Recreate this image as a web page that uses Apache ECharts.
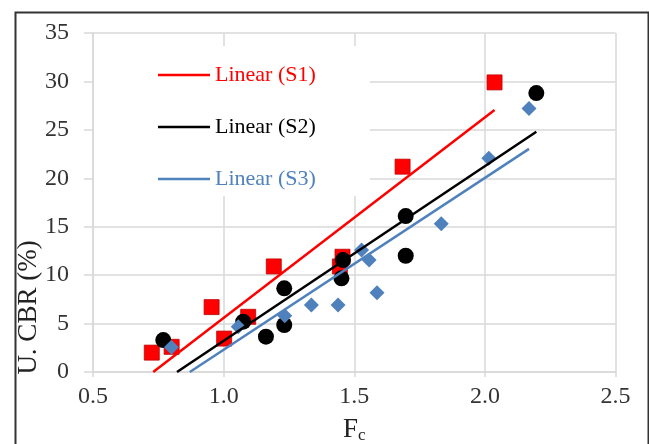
<!DOCTYPE html>
<html>
<head>
<meta charset="utf-8">
<style>
html,body{margin:0;padding:0;background:#fff;}
#chart{width:649px;height:444px;}
</style>
<script src="https://cdn.jsdelivr.net/npm/echarts@6/dist/echarts.min.js"></script>
</head>
<body>
<div id="chart"></div>
<script>
// Data
const s1X = [0.725, 0.801, 0.954, 1.002, 1.094, 1.192, 1.445, 1.455, 1.685, 2.037];
const s1Y = [2.0, 2.6, 6.7, 3.45, 5.7, 10.9, 10.9, 11.9, 21.2, 29.9];
const s2X = [0.769, 1.075, 1.162, 1.232, 1.232, 1.451, 1.457, 1.697, 1.697, 2.197];
const s2Y = [3.3, 5.2, 3.65, 8.64, 4.85, 9.67, 11.56, 16.1, 12.0, 28.8];
const s3X = [0.800, 1.056, 1.234, 1.336, 1.438, 1.528, 1.557, 1.587, 1.833, 2.015, 2.169];
const s3Y = [2.55, 4.68, 5.8, 6.92, 6.92, 12.6, 11.56, 8.19, 15.3, 22.06, 27.2];
const seriesNames = ['S1', 'S2', 'S3'];
const xTicks = [0.5, 1.0, 1.5, 2.0, 2.5];
const yTicks = [0, 5, 10, 15, 20, 25, 30, 35];

function pairs(xs, ys) { return xs.map((x, i) => [x, ys[i]]); }

// Least-squares linear trendline, clipped to the visible range (y >= 0)
function trend(xs, ys) {
  const n = xs.length;
  const mx = xs.reduce((a, b) => a + b, 0) / n;
  const my = ys.reduce((a, b) => a + b, 0) / n;
  let sxy = 0, sxx = 0;
  for (let i = 0; i < n; i++) { sxy += (xs[i] - mx) * (ys[i] - my); sxx += (xs[i] - mx) * (xs[i] - mx); }
  const k = sxy / sxx, b = my - k * mx;
  let x0 = Math.min(...xs);
  const x1 = Math.max(...xs);
  if (k * x0 + b < 0) x0 = -b / k;
  return [[x0, k * x0 + b], [x1, k * x1 + b]];
}

const red = '#ff0000', black = '#000000', blue = '#4f81bd';
const serif = 'Liberation Serif';

const chart = echarts.init(document.getElementById('chart'), null, {renderer: 'canvas'});
chart.setOption({
  animation: false,
  backgroundColor: '#ffffff',
  graphic: [{
    type: 'rect', left: 13, top: 10, z: 100, silent: true,
    shape: {width: 633, height: 450},
    style: {fill: 'none', stroke: '#333333', lineWidth: 2}
  }],
  grid: {left: 93, right: 33.5, top: 33, bottom: 72, containLabel: false, outerBoundsMode: 'none'},
  legend: {
    data: [
      {name: 'Linear (S1)', icon: 'rect'},
      {name: 'Linear (S2)', icon: 'rect'},
      {name: 'Linear (S3)', icon: 'rect'}
    ],
    orient: 'vertical', left: 94, top: 46, z: 1,
    backgroundColor: '#ffffff',
    padding: [18, 54, 6, 64],
    itemWidth: 52, itemHeight: 2.5, itemGap: 30,
    textStyle: {fontFamily: serif, fontSize: 22, lineHeight: 22, color: 'inherit'}
  },
  xAxis: {
    type: 'value', min: 0.5, max: 2.5, interval: 0.5,
    name: '{a|F}{b|c}', nameLocation: 'middle', nameGap: 44, nameMoveOverlap: false,
    nameTextStyle: {
      rich: {
        a: {fontFamily: serif, fontSize: 27, color: '#222'},
        b: {fontFamily: serif, fontSize: 17, color: '#222', padding: [11, 0, 0, 0]}
      }
    },
    axisLine: {show: true, lineStyle: {color: '#d9d9d9', width: 1.5}},
    axisTick: {show: true, length: 5, lineStyle: {color: '#d9d9d9', width: 1.5}},
    splitLine: {show: true, lineStyle: {color: '#d9d9d9', width: 1.5}},
    axisLabel: {
      fontFamily: serif, fontSize: 24, color: '#333', margin: 13,
      formatter: v => xTicks.includes(+v.toFixed(1)) ? v.toFixed(1) : ''
    }
  },
  yAxis: {
    type: 'value', min: 0, max: 35, interval: 5,
    name: 'U. CBR (%)', nameLocation: 'middle', nameGap: 51, nameRotate: 90, nameMoveOverlap: false,
    nameTextStyle: {fontFamily: serif, fontSize: 27, color: '#222', padding: [0, 210, 0, 0]},
    axisLine: {show: true, lineStyle: {color: '#d9d9d9', width: 1.5}},
    axisTick: {show: true, length: 9, lineStyle: {color: '#d9d9d9', width: 1.5}},
    splitLine: {show: true, lineStyle: {color: '#d9d9d9', width: 1.5}},
    axisLabel: {
      fontFamily: serif, fontSize: 24, color: '#333', margin: 24,
      formatter: v => yTicks.includes(v) ? String(v) : ''
    }
  },
  series: [
    {name: seriesNames[0], type: 'scatter', symbol: 'rect', symbolSize: 15, z: 2,
     itemStyle: {color: red, opacity: 1, borderColor: '#c00000', borderWidth: 0.8}, data: pairs(s1X, s1Y)},
    {name: seriesNames[1], type: 'scatter', symbol: 'circle', symbolSize: 16, z: 2,
     itemStyle: {color: black, opacity: 1}, data: pairs(s2X, s2Y)},
    {name: seriesNames[2], type: 'scatter', symbol: 'diamond', symbolSize: 15, z: 2,
     itemStyle: {color: blue, opacity: 1}, data: pairs(s3X, s3Y)},
    {name: 'Linear (S1)', type: 'line', symbol: 'none', z: 5, color: red,
     lineStyle: {color: red, width: 2.5}, data: trend(s1X, s1Y)},
    {name: 'Linear (S2)', type: 'line', symbol: 'none', z: 5, color: black,
     lineStyle: {color: black, width: 2.5}, data: trend(s2X, s2Y)},
    {name: 'Linear (S3)', type: 'line', symbol: 'none', z: 5, color: blue,
     lineStyle: {color: blue, width: 2.5}, data: trend(s3X, s3Y)}
  ]
});
</script>
</body>
</html>
